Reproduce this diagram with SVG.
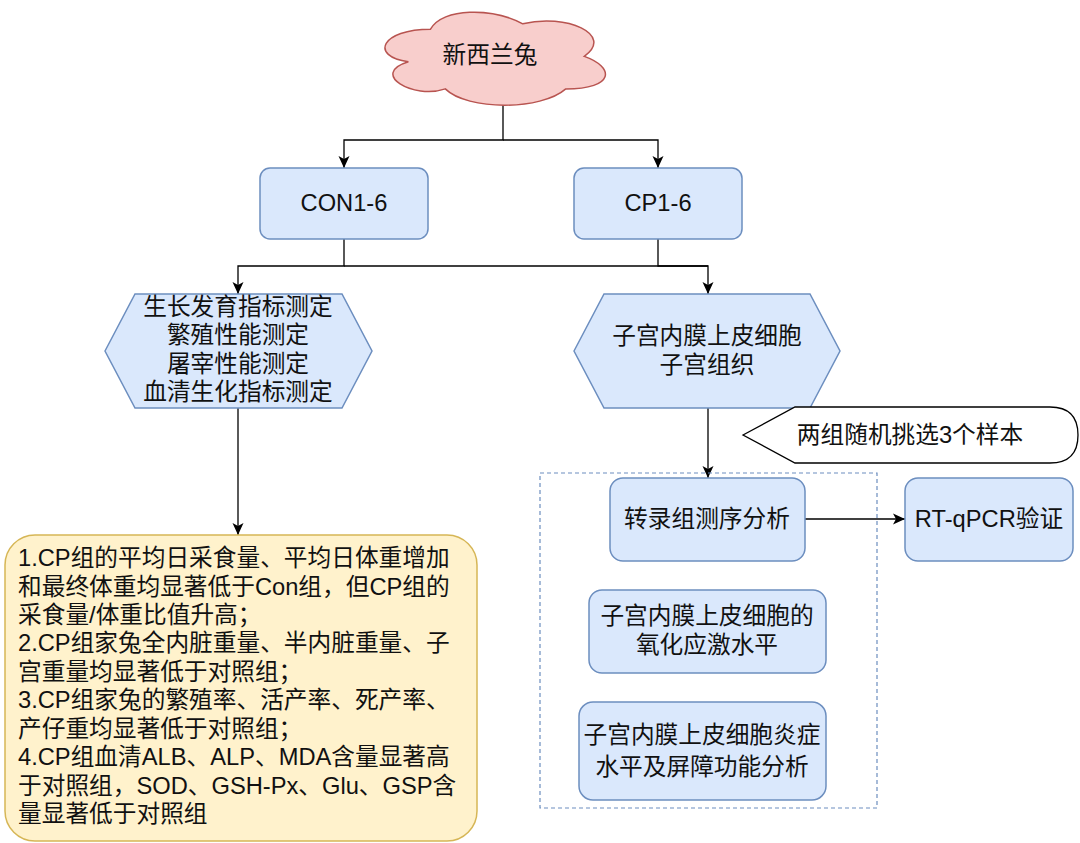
<svg xmlns="http://www.w3.org/2000/svg" width="1080" height="843" viewBox="0 0 1080 843">
<style>
text{font-family:"Liberation Sans","Noto Sans CJK SC",sans-serif;font-size:23.7px;fill:#111;dominant-baseline:central}
.c{text-anchor:middle}
.blue{fill:#dae8fc;stroke:#6c8ebf;stroke-width:1.5}
.edge{fill:none;stroke:#000;stroke-width:1.3}
</style>
<defs>
<marker id="arr" markerUnits="userSpaceOnUse" markerWidth="14" markerHeight="12" refX="12" refY="6" orient="auto">
<path d="M0,0.5 L12,6 L0,11.5 L3,6 Z" fill="#000"/>
</marker>
</defs>
<rect width="1080" height="843" fill="#fff"/>

<g id="edges">
<path class="edge" d="M503,103 V140 H344 V168" marker-end="url(#arr)"/>
<path class="edge" d="M503,140 H658 V168" marker-end="url(#arr)"/>
<path class="edge" d="M344,239 V266 H238 V294" marker-end="url(#arr)"/>
<path class="edge" d="M344,266 H708"/>
<path class="edge" d="M658,239 V266 H708 V294" marker-end="url(#arr)"/>
<path class="edge" d="M238,408 V535" marker-end="url(#arr)"/>
<path class="edge" d="M708,408 V478" marker-end="url(#arr)"/>
<path class="edge" d="M805,519 H905" marker-end="url(#arr)"/>
</g>

<g id="cloud">
<path d="M430.5,29.2 C381.3,29.2 369,56.4 408.4,61.7 C369,73.7 413.3,99.8 445.3,88.9 C467.4,110.6 541.2,110.6 565.8,88.9 C615,88.9 615,67.2 584.3,56.4 C615,34.6 565.8,12.9 522.8,23.8 C492,7.5 442.8,7.5 430.5,29.2 Z" fill="#f8cecc" stroke="#b85450" stroke-width="1.5"/>
<text class="c" x="490" y="55">新西兰兔</text>
</g>

<g id="con">
<rect class="blue" x="260" y="168" width="168" height="71" rx="10"/>
<text class="c" x="344" y="203">CON1-6</text>
</g>

<g id="cp">
<rect class="blue" x="574" y="168" width="168" height="71" rx="10"/>
<text class="c" x="658" y="203">CP1-6</text>
</g>

<g id="hexLeft">
<polygon class="blue" points="105,351 135,294 342,294 372,351 342,408 135,408"/>
<text class="c" x="238" y="307">生长发育指标测定</text>
<text class="c" x="238" y="335">繁殖性能测定</text>
<text class="c" x="238" y="364">屠宰性能测定</text>
<text class="c" x="238" y="392">血清生化指标测定</text>
</g>

<g id="hexRight">
<polygon class="blue" points="574,351 604,294 810,294 840,351 810,408 604,408"/>
<text class="c" x="707" y="336">子宫内膜上皮细胞</text>
<text class="c" x="707" y="365">子宫组织</text>
</g>

<g id="results">
<rect x="5" y="535" width="472" height="306" rx="30" fill="#fff2cc" stroke="#d6b656" stroke-width="1.5"/>
<text x="18" y="558">1.CP组的平均日采食量、平均日体重增加</text>
<text x="18" y="587">和最终体重均显著低于Con组，但CP组的</text>
<text x="18" y="615">采食量/体重比值升高；</text>
<text x="18" y="643">2.CP组家兔全内脏重量、半内脏重量、子</text>
<text x="18" y="672">宫重量均显著低于对照组；</text>
<text x="18" y="700">3.CP组家兔的繁殖率、活产率、死产率、</text>
<text x="18" y="729">产仔重均显著低于对照组；</text>
<text x="18" y="757">4.CP组血清ALB、ALP、MDA含量显著高</text>
<text x="18" y="786">于对照组，SOD、GSH-Px、Glu、GSP含</text>
<text x="18" y="814">量显著低于对照组</text>
</g>

<g id="callout">
<path d="M743,435 L795,407 H1050 Q1078,407 1078,435 Q1078,463 1050,463 H795 Z" fill="#fff" stroke="#000" stroke-width="1.3"/>
<text class="c" x="910" y="435">两组随机挑选3个样本</text>
</g>

<g id="container">
<rect x="540" y="473" width="337" height="335" fill="none" stroke="#6c8ebf" stroke-width="1.2" stroke-dasharray="4 3"/>
</g>

<g id="seq">
<rect class="blue" x="610" y="478" width="195" height="83" rx="13"/>
<text class="c" x="707" y="519">转录组测序分析</text>
</g>

<g id="rtqpcr">
<rect class="blue" x="905" y="478" width="168" height="83" rx="13"/>
<text class="c" x="989" y="519">RT-qPCR验证</text>
</g>

<g id="oxid">
<rect class="blue" x="589" y="590" width="237" height="83" rx="13"/>
<text class="c" x="707" y="616">子宫内膜上皮细胞的</text>
<text class="c" x="707" y="645">氧化应激水平</text>
</g>

<g id="inflam">
<rect class="blue" x="579" y="702" width="247" height="98" rx="14"/>
<text class="c" x="702" y="735">子宫内膜上皮细胞炎症</text>
<text class="c" x="702" y="767">水平及屏障功能分析</text>
</g>
</svg>
